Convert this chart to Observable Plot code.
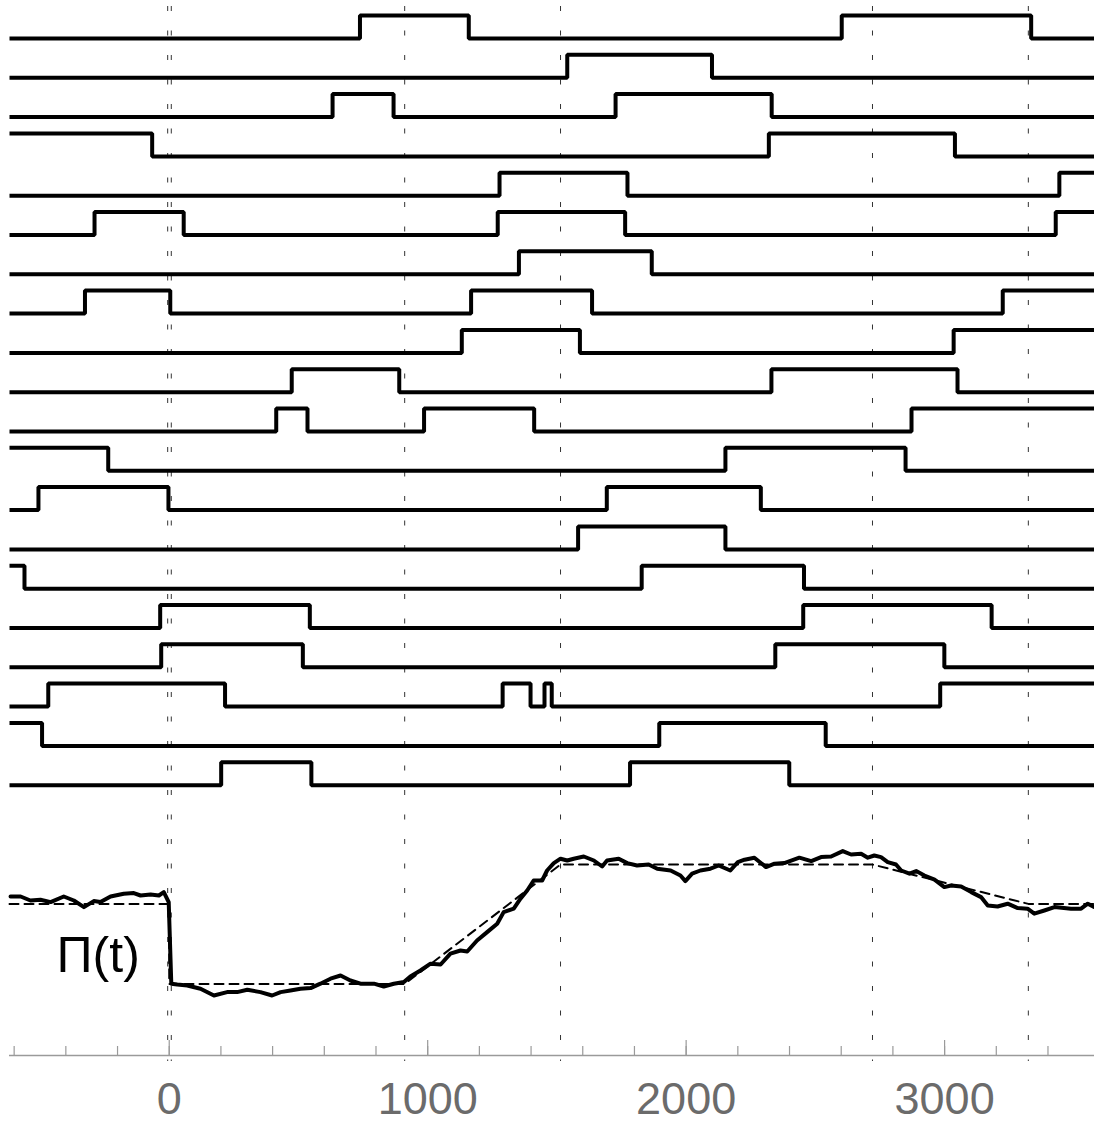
<!DOCTYPE html>
<html>
<head>
<meta charset="utf-8">
<script src="https://cdn.jsdelivr.net/npm/d3@7"></script>
<script src="https://cdn.jsdelivr.net/npm/@observablehq/plot@0.6"></script>
<style>
  html, body { margin: 0; padding: 0; background: #fff; }
  #chart svg { display: block; }
</style>
</head>
<body>
<div id="chart"></div>
<script>
// ---- data ----
// time window of the recording
const tMin = -618, tMax = 3580;
// event times (vertical dotted lines)
const eventTimes = [-6, 8, 911, 1514, 2721, 3324];
// initial state (0 = low, 1 = high) of the 20 channel traces, top to bottom
const rowInit = [0,0,0,1,0,0,0,0,0,0,0,1,0,0,1,0,0,0,1,0];
// switching times of each trace
const rowSwitch = [
  [738, 1159, 2602, 3335],
  [1540, 2100],
  [632, 868, 1727, 2331],
  [-66, 2320, 3040],
  [1278, 1773, 3444],
  [-289, 56, 1271, 1764, 3430],
  [1353, 1867],
  [-326, 4, 1168, 1636, 3225],
  [1132, 1589, 3035],
  [474, 890, 2330, 3050],
  [414, 535, 986, 1412, 2872],
  [-236, 2152, 2849],
  [-506, -3, 1693, 2289],
  [1582, 2152],
  [-560, 1828, 2456],
  [-35, 544, 2453, 3182],
  [-31, 517, 2345, 2999],
  [-468, 216, 1290, 1398, 1452, 1480, 2983],
  [-492, 1896, 2540],
  [201, 550, 1783, 2399]
];
// Π(t): measured trace
const piT = [-614,-575,-537,-498,-459,-408,-369,-330,-292,-266,-227,-176,-137,-111,-72,-40,-21,-2,8,31,70,121,173,224,263,302,353,398,431,469,508,547,585,624,663,701,740,792,830,869,908,933,972,1011,1050,1088,1127,1153,1191,1230,1269,1294,1333,1359,1385,1410,1443,1462,1488,1514,1540,1565,1604,1643,1675,1694,1739,1772,1810,1855,1888,1940,1978,1997,2023,2055,2094,2126,2171,2200,2226,2264,2309,2342,2380,2438,2484,2522,2561,2606,2638,2677,2703,2728,2754,2780,2812,2832,2864,2890,2922,2961,2999,3025,3064,3103,3141,3167,3205,3244,3283,3321,3347,3386,3425,3489,3528,3554,3580];
const piV = [0.795,0.795,0.775,0.779,0.767,0.795,0.775,0.742,0.772,0.767,0.795,0.809,0.812,0.800,0.805,0.800,0.817,0.767,0.359,0.355,0.350,0.334,0.300,0.317,0.317,0.329,0.317,0.300,0.317,0.325,0.334,0.337,0.359,0.384,0.400,0.375,0.359,0.359,0.345,0.359,0.367,0.395,0.425,0.459,0.455,0.509,0.525,0.520,0.575,0.617,0.659,0.717,0.734,0.784,0.825,0.875,0.875,0.925,0.962,0.984,0.975,0.984,0.995,0.975,0.945,0.975,0.984,0.962,0.950,0.955,0.934,0.925,0.900,0.872,0.909,0.925,0.934,0.950,0.925,0.967,0.979,0.989,0.942,0.959,0.962,0.989,0.972,0.992,0.995,1.022,1.005,1.009,0.989,1.000,0.992,0.967,0.955,0.925,0.909,0.922,0.900,0.879,0.842,0.850,0.845,0.817,0.792,0.750,0.745,0.759,0.737,0.734,0.709,0.725,0.742,0.734,0.734,0.759,0.742];
// Π(t): piecewise-linear model (dashed)
const modelT = [-618, 0, 0, 911, 1514, 2721, 3324, 3580];
const modelV = [0.758, 0.758, 0.358, 0.358, 0.955, 0.955, 0.758, 0.758];
// axis ticks
const majorTicks = [0, 1000, 2000, 3000];
const minorTicks = d3.range(-600, 3600, 200);
const piLabel = "Π(t)";

// ---- build tables ----
const HIGH_OFFSET = 0.585; // vertical height of a "high" state, in row units
const waves = [];
rowSwitch.forEach((sw, i) => {
  let s = rowInit[i];
  waves.push({row: i, t: tMin, v: i - s * HIGH_OFFSET});
  for (const t of sw) {
    s = 1 - s;
    waves.push({row: i, t, v: i - s * HIGH_OFFSET});
  }
  waves.push({row: i, t: tMax, v: i - s * HIGH_OFFSET});
});
const piData = piT.map((t, i) => ({t, v: piV[i]}));
const modelData = modelT.map((t, i) => ({t, v: modelV[i]}));

const W = 1094;
const font = "Liberation Sans, Arial, Helvetica, sans-serif";

const tracesPlot = Plot.plot({
  width: W, height: 800,
  marginTop: 0, marginBottom: 0, marginLeft: 9, marginRight: 0,
  style: {fontFamily: font, background: "white"},
  x: {domain: [tMin, tMax], axis: null},
  y: {domain: [-0.967, 19.39], range: [0, 800], axis: null},
  marks: [
    Plot.ruleX(eventTimes, {x: d => d, stroke: "#333", strokeWidth: 1, strokeDasharray: "5,19.5", strokeDashoffset: -6}),
    Plot.line(waves, {x: "t", y: "v", z: "row", curve: "step-after", stroke: "black", strokeWidth: 4, strokeLinejoin: "miter", strokeLinecap: "butt"})
  ]
});

const piPlot = Plot.plot({
  width: W, height: 323,
  marginTop: 0, marginBottom: 68, marginLeft: 9, marginRight: 0,
  style: {fontFamily: font, background: "white"},
  x: {domain: [tMin, tMax], label: null},
  y: {domain: [0, 1.275], axis: null},
  marks: [
    Plot.ruleX(eventTimes, {x: d => d, stroke: "#333", strokeWidth: 1, strokeDasharray: "5,19.5", strokeDashoffset: 10, insetBottom: -6}),
    Plot.ruleY([0], {stroke: "#9a9a9a", strokeWidth: 1.3}),
    Plot.axisX({ticks: minorTicks, tickSize: -9, text: null, label: null, stroke: "#9a9a9a", strokeWidth: 1.2}),
    Plot.axisX({ticks: majorTicks, tickSize: -15, text: null, label: null, stroke: "#9a9a9a", strokeWidth: 1.2}),
    Plot.axisX({ticks: majorTicks, tickSize: 0, tickPadding: 27, fontSize: 45, fill: "#6b6b6b", tickFormat: d => String(d), label: null}),
    Plot.line(modelData, {x: "t", y: "v", stroke: "black", strokeWidth: 2, strokeDasharray: "9,6"}),
    Plot.line(piData, {x: "t", y: "v", stroke: "black", strokeWidth: 4, strokeLinejoin: "round"}),
    Plot.text([piLabel], {x: () => -275, y: () => 0.5, text: d => d, fontSize: 50, fill: "black", textAnchor: "middle"})
  ]
});

const root = document.getElementById("chart");
root.appendChild(tracesPlot);
root.appendChild(piPlot);
</script>
</body>
</html>
